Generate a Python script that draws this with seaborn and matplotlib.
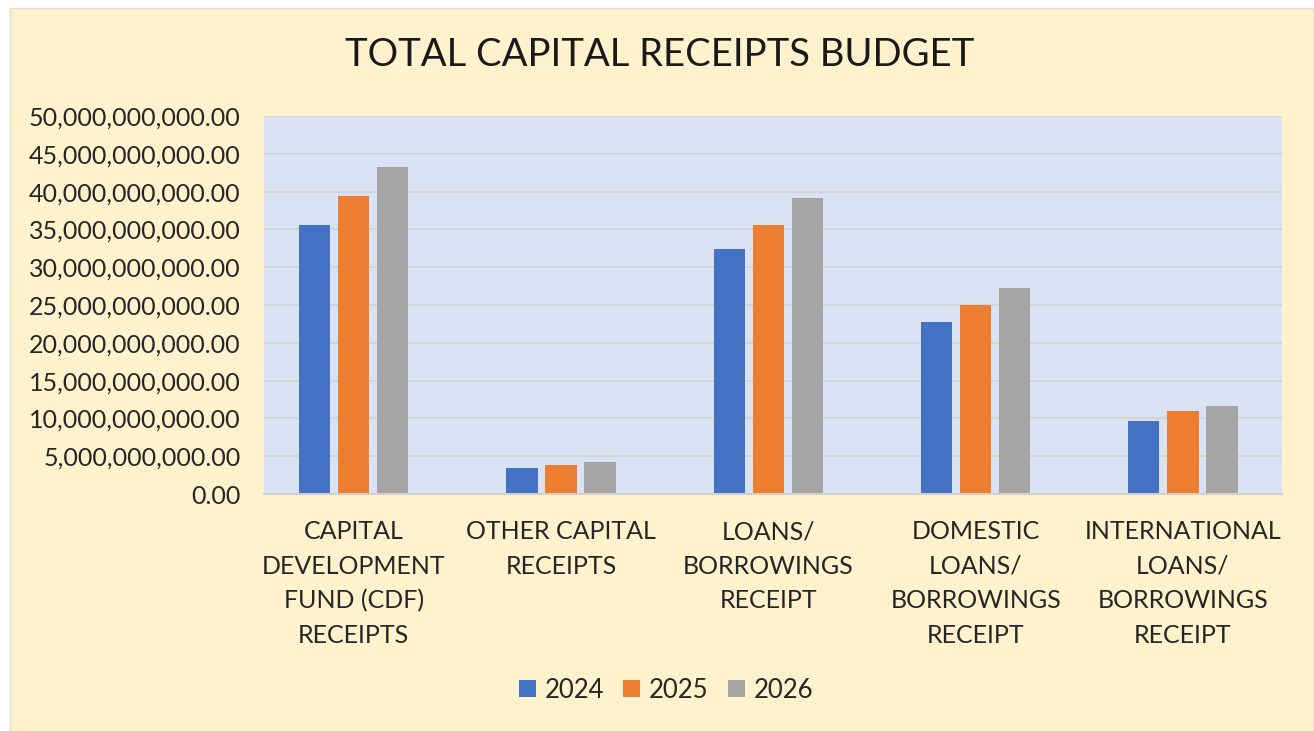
import matplotlib
matplotlib.use("Agg")
import matplotlib.pyplot as plt
from matplotlib.patches import Rectangle
from matplotlib.ticker import FuncFormatter
import seaborn as sns
import pandas as pd

# chart values
categories = [
    "CAPITAL\nDEVELOPMENT\nFUND (CDF)\nRECEIPTS",
    "OTHER CAPITAL\nRECEIPTS",
    "LOANS/\nBORROWINGS\nRECEIPT",
    "DOMESTIC\nLOANS/\nBORROWINGS\nRECEIPT",
    "INTERNATIONAL\nLOANS/\nBORROWINGS\nRECEIPT",
]
years = ["2024", "2025", "2026"]
values_2024 = [35.6e9, 3.5e9, 32.4e9, 22.7e9, 9.7e9]
values_2025 = [39.4e9, 3.8e9, 35.6e9, 25.0e9, 11.0e9]
values_2026 = [43.2e9, 4.2e9, 39.1e9, 27.3e9, 11.6e9]
colors = ["#4472C4", "#ED7D31", "#A5A5A5"]

rows = []
for yr, vals in zip(years, [values_2024, values_2025, values_2026]):
    for cat, v in zip(categories, vals):
        rows.append({"category": cat, "year": yr, "value": v})
df = pd.DataFrame(rows)

sns.set_style("white")
plt.rcParams["font.family"] = ["Lato", "DejaVu Sans"]
txt = "#262626"

fig = plt.figure(figsize=(13.14, 7.31), dpi=100, facecolor="white")
# yellow chart area with thin border, white margin at top/left
fig.patches.append(Rectangle((10 / 1314, 0), 1 - 10 / 1314, 1 - 8 / 731,
                             transform=fig.transFigure, facecolor="#FFF2CC",
                             edgecolor="#E3DCC6", linewidth=1, zorder=-10))

ax = fig.add_axes([264 / 1314, 1 - 494 / 731, (1282 - 264) / 1314, (494 - 116) / 731])
ax.set_facecolor("#DAE3F3")

sns.barplot(data=df, x="category", y="value", hue="year", palette=colors,
            width=0.565, gap=0.2, saturation=1, linewidth=0, ax=ax)

ax.set_xlim(-0.433, 4.478)
ax.set_ylim(0, 50e9)
ax.set_yticks([i * 5e9 for i in range(11)])
ax.yaxis.set_major_formatter(FuncFormatter(lambda v, p: f"{v:,.2f}"))
ax.grid(axis="y", color="#D4D4D4", linewidth=1.5)
ax.set_axisbelow(True)
for s in ["top", "right", "left"]:
    ax.spines[s].set_visible(False)
ax.spines["bottom"].set_color("#D0D0D0")
ax.spines["bottom"].set_linewidth(1.5)

ax.tick_params(axis="y", length=0, pad=17, labelsize=18, labelcolor=txt)
ax.tick_params(axis="x", length=0, pad=19, labelsize=18, labelcolor=txt)
ax.set_xticks(range(len(categories)))
ax.set_xticklabels(categories, linespacing=1.6, va="top")
ax.set_xlabel("")
ax.set_ylabel("")

fig.text(660 / 1314, 1 - 55 / 731, "TOTAL CAPITAL RECEIPTS BUDGET", ha="center",
         va="center", fontsize=27.5, color="#1a1a1a")

handles, labels = ax.get_legend_handles_labels()
ax.legend_.remove()
fig.legend(handles, labels, loc="center", bbox_to_anchor=(666 / 1314, 1 - 690 / 731),
           ncol=3, frameon=False, fontsize=18.5, handlelength=0.65, handleheight=0.65,
           handletextpad=0.35, columnspacing=0.75, labelcolor=txt)

fig.savefig("out.png", dpi=100, facecolor=fig.get_facecolor())
